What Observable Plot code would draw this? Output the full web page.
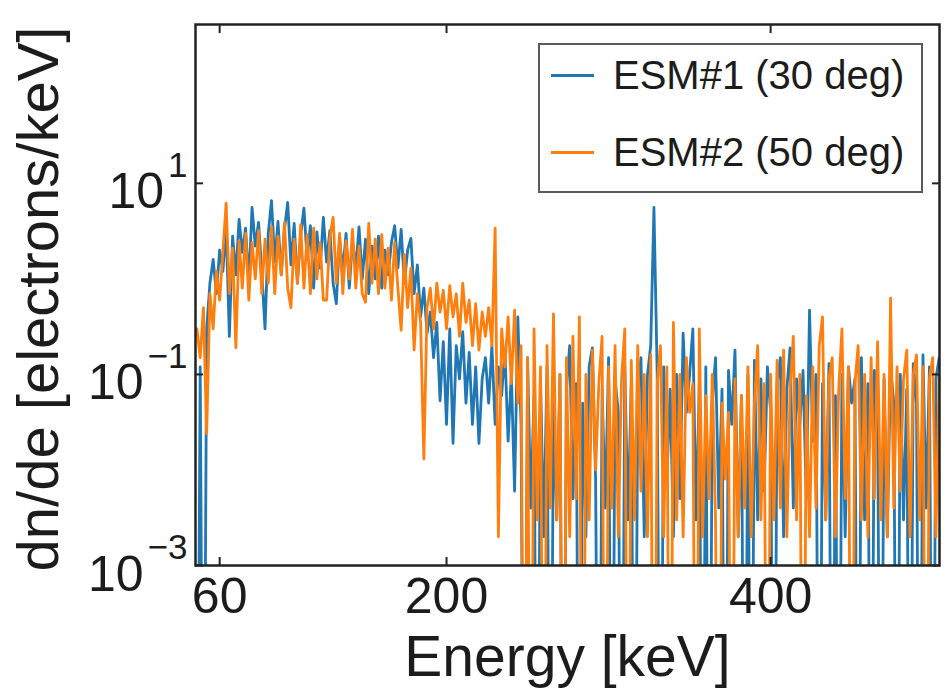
<!DOCTYPE html>
<html>
<head>
<meta charset="utf-8">
<script src="https://cdn.jsdelivr.net/npm/d3@7"></script>
<script src="https://cdn.jsdelivr.net/npm/@observablehq/plot@0.6"></script>
<style>
html, body { margin: 0; padding: 0; background: #fff; }
#wrap { position: relative; width: 947px; height: 690px; font-family: "Liberation Sans", Arial, Helvetica, sans-serif; }
#legend { position: absolute; left: 538px; top: 43px; width: 381px; height: 146px; border: 2px solid #5a5a5a; background: rgba(255,255,255,0.85); }
.swatch { position: absolute; left: 11px; width: 43px; height: 3px; }
.lab { position: absolute; left: 73px; font-size: 40px; line-height: 40px; color: #1c1c1c; white-space: nowrap; }
</style>
</head>
<body>
<div id="wrap"></div>
<script>
// Energy bin centres [keV]
const energy = d3.range(46, 506, 2);

// ESM#1 (30 deg) dn/de [electrons/keV], 0 = empty bin
const esm1 = [
  0, 0.12, 0, 0.3, 0.9, 1.6, 0.7, 2.0, 1.2, 3.6,
  0.25, 2.8, 1.1, 4.2, 1.9, 3.4, 0.9, 5.6, 2.2, 3.9,
  1.2, 0.3, 3.0, 6.6, 1.5, 4.0, 1.1, 3.3, 6.3, 1.4,
  3.8, 0.9, 2.9, 5.5, 1.6, 3.6, 0.8, 3.1, 1.3, 4.4,
  1.5, 3.2, 0.9, 0.55, 2.7, 1.2, 3.0, 0.8, 2.5, 1.3,
  3.5, 1.0, 2.6, 0.7, 2.2, 1.0, 2.8, 0.8, 2.0, 1.1,
  2.4, 3.6, 1.3, 3.3, 0.9, 2.0, 2.65, 0.7, 1.4, 0.4,
  0.8, 0.27, 0.45, 0.15, 0.35, 0.053, 0.22, 0.03, 0.3, 0.019,
  0.2, 0.09, 0.28, 0.05, 0.17, 0.03, 0.12, 0.019, 0.09, 0.15,
  0.05, 0.2, 0.03, 0.12, 0.06, 0.18, 0.02, 0.1, 0.006, 0.4,
  0.03, 0, 0.15, 0.004, 0.06, 0, 0.09, 0.002, 0.12, 0,
  0.05, 0.003, 0.1, 0, 0.07, 0.2, 0.005, 0.08, 0, 0.05,
  0.002, 0.12, 0.19, 0.008, 0, 0.07, 0.004, 0.15, 0, 0.09,
  0.04, 0, 0.12, 0.003, 0.08, 0, 0.06, 0.15, 0.002, 0.1,
  0.2, 5.6, 0.1, 0, 0.12, 0.008, 0.07, 0.002, 0.1, 0.005,
  0.27, 0.04, 0.1, 0.3, 0.003, 0.08, 0, 0.12, 0, 0.05,
  0.15, 0.004, 0.07, 0, 0.11, 0.03, 0.18, 0.002, 0.06, 0,
  0.1, 0, 0.14, 0.003, 0.09, 0.006, 0.12, 0.04, 0, 0.08,
  0.15, 0.002, 0.07, 0.19, 0.004, 0.09, 0.03, 0.11, 0.005, 0.47,
  0.02, 0.1, 0, 0.08, 0.003, 0.13, 0, 0.06, 0, 0.1,
  0.002, 0.12, 0.05, 0.09, 0, 0.15, 0.003, 0.08, 0, 0.11,
  0.04, 0, 0.09, 0.002, 0.12, 0.05, 0, 0.1, 0.003, 0.07,
  0, 0.13, 0.05, 0, 0.16, 0.004, 0.12, 0, 0.09, 0.15
];

// ESM#2 (50 deg) dn/de [electrons/keV], 0 = empty bin
const esm2 = [
  0.3, 0.15, 0.5, 0.024, 0.7, 0.3, 1.2, 0.6, 1.9, 6.2,
  0.7, 2.1, 0.19, 2.5, 0.8, 3.0, 0.6, 2.4, 1.0, 3.2,
  0.7, 2.6, 0.9, 3.5, 0.7, 2.8, 1.1, 3.9, 0.8, 0.5,
  2.6, 0.9, 3.7, 0.8, 2.9, 0.7, 3.4, 1.0, 2.4, 0.6,
  0.6, 2.7, 4.4, 0.9, 3.0, 0.7, 2.5, 1.0, 3.3, 0.8,
  2.2, 0.7, 0.57, 3.8, 0.9, 2.6, 0.7, 2.9, 0.8, 2.1,
  0.6, 2.4, 0.8, 0.29, 1.8, 0.5, 1.3, 0.18, 0.7, 0.35,
  0.013, 0.5, 0.8, 0.3, 0.9, 0.45, 0.76, 0.3, 0.85, 0.4,
  0.7, 0.25, 0.9, 0.35, 0.6, 0.2, 0.55, 0.18, 0.45, 0.25,
  0.5, 0.2, 3.4, 0.002, 0.3, 0.12, 0.4, 0.08, 0.47, 0.05,
  0.2, 0, 0.15, 0, 0.3, 0.003, 0.12, 0, 0.2, 0.004,
  0.43, 0.003, 0.1, 0, 0.15, 0.002, 0.25, 0.005, 0.4, 0,
  0.1, 0.003, 0.18, 0.01, 0.08, 0.25, 0, 0.12, 0.004, 0.2,
  0.002, 0.09, 0.3, 0, 0.14, 0.003, 0.2, 0.006, 0.1, 0.002,
  0.16, 0, 0.08, 0.2, 0.002, 0.12, 0, 0.35, 0.003, 0.1,
  0.002, 0.15, 0.04, 0.08, 0, 0.3, 0.002, 0.06, 0.005, 0.1,
  0.003, 0, 0.05, 0.008, 0.04, 0, 0.09, 0.002, 0.06, 0.004,
  0.12, 0.002, 0.05, 0.2, 0.003, 0.08, 0, 0.1, 0.003, 0.14,
  0.004, 0.18, 0.002, 0.07, 0.25, 0.003, 0.1, 0, 0.06, 0.002,
  0.12, 0.004, 0.2, 0.4, 0.003, 0.09, 0.15, 0.002, 0.07, 0.3,
  0.005, 0.12, 0, 0.08, 0.2, 0.003, 0.1, 0.002, 0.15, 0.005,
  0.22, 0.003, 0.1, 0.002, 0.63, 0.004, 0.12, 0.006, 0.09, 0.18,
  0.002, 0.1, 0.16, 0.003, 0.12, 0, 0.09, 0.15, 0.002, 0.1
];

const seriesNames = ["ESM#1 (30 deg)", "ESM#2 (50 deg)"];
const seriesColors = ["#1f77b4", "#ff7f0e"];
const xTicks = [60, 200, 400];
const yTickExponents = [1, -1, -3];
const xLabel = "Energy [keV]";
const yLabel = "dn/de [electrons/keV]";

const rows1 = energy.map((e, i) => ({e, v: esm1[i]}));
const rows2 = energy.map((e, i) => ({e, v: esm2[i]}));
const yVal = d => (d.v > 0 ? d.v : 1e-7); // empty bins drop below the axis floor
const yTickValues = yTickExponents.map(k => Math.pow(10, k));
const expText = k => (k < 0 ? "\u2212" + Math.abs(k) : String(k));
const supSize = 35;
const supWidth = k => Array.from(expText(k)).reduce((s, c) => s + (c === "\u2212" ? 0.584 : 0.556), 0) * supSize;

const plot = Plot.plot({
  width: 947,
  height: 690,
  marginLeft: 195,
  marginRight: 8,
  marginTop: 24,
  marginBottom: 125,
  style: {fontFamily: "'Liberation Sans', Arial, Helvetica, sans-serif", color: "#1c1c1c", background: "white", overflow: "visible"},
  x: {domain: [45.1, 504.2], axis: null},
  y: {type: "log", domain: [1e-3, 460], axis: null},
  marks: [
    Plot.lineY(rows1, {x: "e", y: yVal, stroke: seriesColors[0], strokeWidth: 2.8, clip: true}),
    Plot.lineY(rows2, {x: "e", y: yVal, stroke: seriesColors[1], strokeWidth: 2.8, clip: true}),
    // inward ticks on all four sides
    Plot.axisX({ticks: xTicks, anchor: "bottom", tickSize: -8, tickFormat: () => "", label: null, strokeWidth: 2, stroke: "#222"}),
    Plot.axisX({ticks: xTicks, anchor: "top", tickSize: -8, tickFormat: () => "", label: null, strokeWidth: 2, stroke: "#222"}),
    Plot.axisY({ticks: yTickValues, anchor: "left", tickSize: -8, tickFormat: () => "", label: null, strokeWidth: 2, stroke: "#222"}),
    Plot.axisY({ticks: yTickValues, anchor: "right", tickSize: -8, tickFormat: () => "", label: null, strokeWidth: 2, stroke: "#222"}),
    // x tick labels
    Plot.text(xTicks, {x: d => d, frameAnchor: "bottom", text: d => String(d), lineAnchor: "top", dy: 12, fontSize: 50, fill: "#1c1c1c"}),
    // y tick labels: 10 with superscript exponent
    ...yTickExponents.map(k => Plot.text([Math.pow(10, k)], {y: d => d, frameAnchor: "left", text: () => "10", textAnchor: "end", lineAnchor: "middle", dx: -8 - supWidth(k) - 4, dy: 9, fontSize: 50, fill: "#1c1c1c"})),
    Plot.text(yTickValues, {y: d => d, frameAnchor: "left", text: (d, i) => expText(yTickExponents[i]), textAnchor: "end", lineAnchor: "middle", dx: -8, dy: -18, fontSize: supSize, fill: "#1c1c1c"}),
    // axis titles
    Plot.text([xLabel], {frameAnchor: "bottom", text: d => d, textAnchor: "middle", lineAnchor: "bottom", dy: 110, fontSize: 57, fill: "#1c1c1c"}),
    Plot.text([yLabel], {frameAnchor: "left", text: d => d, textAnchor: "middle", rotate: -90, lineAnchor: "bottom", dx: -138, dy: 4, fontSize: 58, fill: "#1c1c1c"}),
    Plot.frame({stroke: "#222", strokeWidth: 2.5})
  ]
});

const wrap = document.getElementById("wrap");
wrap.appendChild(plot);

// legend box (upper right, inside the axes)
const legend = document.createElement("div");
legend.id = "legend";
seriesNames.forEach((name, i) => {
  const cy = 30 + i * 77;
  const sw = document.createElement("div");
  sw.className = "swatch";
  sw.style.top = (cy - 1.5) + "px";
  sw.style.background = seriesColors[i];
  const lab = document.createElement("div");
  lab.className = "lab";
  lab.style.top = (cy - 20) + "px";
  lab.textContent = name;
  legend.appendChild(sw);
  legend.appendChild(lab);
});
wrap.appendChild(legend);
</script>
</body>
</html>
